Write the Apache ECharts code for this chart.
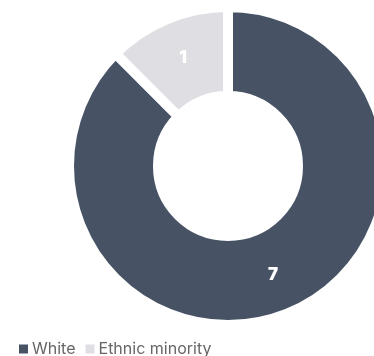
<!DOCTYPE html>
<html>
<head>
<meta charset="utf-8">
<script src="https://cdn.jsdelivr.net/npm/echarts@6/dist/echarts.min.js"></script>
<style>html,body{margin:0;padding:0;background:#fff}#c{width:374px;height:356px}</style>
</head>
<body>
<div id="c"></div>
<script>
const categories = ['White', 'Ethnic minority'];
const values = [7, 1];
const colors = ['#475365', '#dfdfe3'];

const chart = echarts.init(document.getElementById('c'));
chart.setOption({
  animation: false,
  backgroundColor: '#fff',
  legend: {
    data: categories,
    left: 12,
    top: 336,
    itemWidth: 11,
    itemHeight: 11,
    itemGap: 8,
    icon: 'rect',
    textStyle: { fontFamily: 'Inter', fontSize: 16, color: '#666', padding: [0, 0, 0, -2] }
  },
  series: [{
    type: 'pie',
    center: [228, 166],
    radius: [70, 159],
    startAngle: 90,
    clockwise: true,
    legendHoverLink: false,
    itemStyle: { borderColor: '#fff', borderWidth: 10 },
    label: {
      show: true,
      position: 'inside',
      formatter: '{c}',
      color: '#fff',
      fontFamily: 'Inter',
      fontWeight: 900,
      fontSize: 17
    },
    labelLine: { show: false },
    data: categories.map((n, i) => ({ name: n, value: values[i], itemStyle: { color: colors[i] } }))
  }]
});
</script>
</body>
</html>
